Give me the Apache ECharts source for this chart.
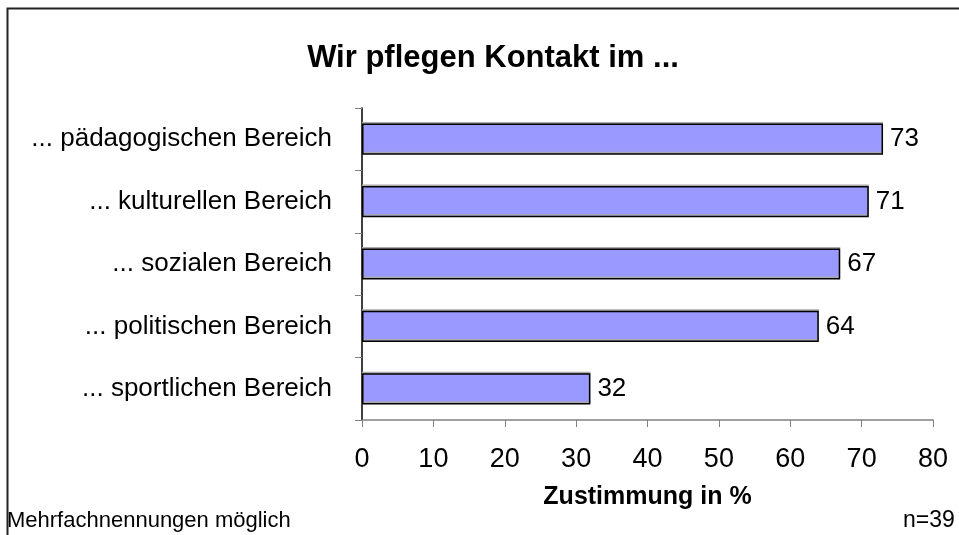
<!DOCTYPE html>
<html>
<head>
<meta charset="utf-8">
<script src="https://cdn.jsdelivr.net/npm/echarts@6/dist/echarts.min.js"></script>
<style>
html, body { margin: 0; padding: 0; background: #fff; }
#chart { width: 959px; height: 535px; }
</style>
</head>
<body>
<div id="chart"></div>
<script>
var categories = ['... pädagogischen Bereich', '... kulturellen Bereich', '... sozialen Bereich', '... politischen Bereich', '... sportlichen Bereich'];
var values = [73, 71, 67, 64, 32];
var xTicks = [0, 10, 20, 30, 40, 50, 60, 70, 80];

var myChart = echarts.init(document.getElementById('chart'));

var font = 'Liberation Sans, Arial, sans-serif';

option = {
    animation: false,
    graphic: [
        {
            type: 'polyline',
            shape: { points: [[7.5, 535], [7.5, 8.5], [959, 8.5]] },
            style: { stroke: '#222', lineWidth: 2, fill: null }
        },
        {
            type: 'text',
            left: 7,
            top: 510,
            style: { text: 'Mehrfachnennungen möglich', font: '22px ' + font, fill: '#000' }
        },
        {
            type: 'text',
            left: 903,
            top: 509,
            style: { text: 'n=39', font: '23px ' + font, fill: '#000' }
        }
    ],
    title: {
        text: 'Wir pflegen Kontakt im ...',
        left: 488,
        textAlign: 'center',
        top: 38,
        textStyle: { fontFamily: font, fontSize: 31, fontWeight: 'bold', color: '#000' }
    },
    grid: {
        left: 362,
        right: 26,
        top: 108,
        bottom: 115
    },
    xAxis: {
        type: 'value',
        min: xTicks[0],
        max: xTicks[xTicks.length - 1],
        interval: 10,
        name: 'Zustimmung in %',
        nameLocation: 'middle',
        nameGap: 65,
        nameTextStyle: { fontFamily: font, fontSize: 25, fontWeight: 'bold', color: '#000' },
        axisLine: { show: true, lineStyle: { color: '#808080', width: 1.5 } },
        axisTick: { show: true, length: 7, lineStyle: { color: '#808080' } },
        axisLabel: { fontFamily: font, fontSize: 27, color: '#000', margin: 26 },
        splitLine: { show: false }
    },
    yAxis: {
        type: 'category',
        data: categories,
        inverse: true,
        axisLine: { show: true, lineStyle: { color: '#000', width: 1.5 } },
        axisTick: { show: true, length: 7, lineStyle: { color: '#808080' } },
        axisLabel: { fontFamily: font, fontSize: 26, color: '#000', margin: 30 }
    },
    series: [
        {
            type: 'bar',
            data: values,
            barWidth: '50%',
            itemStyle: {
                color: '#9999ff',
                borderColor: '#000',
                borderWidth: 1.5,
                shadowColor: '#aaa',
                shadowOffsetY: -1.5
            },
            label: {
                show: true,
                position: 'right',
                distance: 7,
                fontFamily: font,
                fontSize: 26,
                color: '#000'
            }
        }
    ]
};

myChart.setOption(option);
</script>
</body>
</html>
